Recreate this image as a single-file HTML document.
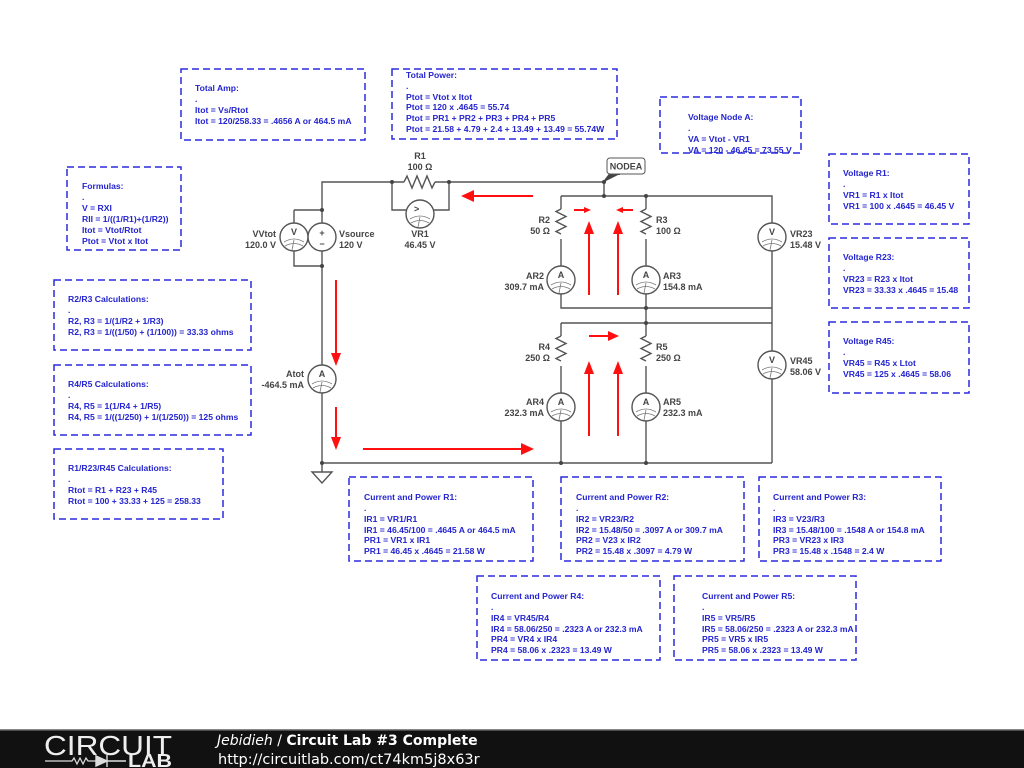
<!DOCTYPE html>
<html><head><meta charset="utf-8"><style>
html,body{margin:0;padding:0;background:#fff;}
svg{display:block;}
.b{fill:none;stroke:#2b2bdd;stroke-width:1.5;stroke-dasharray:7,4;}
.t{font-family:"Liberation Sans",sans-serif;font-size:8.6px;font-weight:bold;fill:#2424d0;}
.l{font-family:"Liberation Sans",sans-serif;font-size:9px;font-weight:bold;fill:#444;}
.w{stroke:#555;stroke-width:1.4;fill:none;}
.r{stroke:#ff1010;stroke-width:2;fill:none;}
.ra{fill:#ff1010;}
</style></head><body>
<svg width="1024" height="768" viewBox="0 0 1024 768" xmlns="http://www.w3.org/2000/svg">
<defs>
<g id="m"><circle r="14" fill="#fff" stroke="#555" stroke-width="1.4"/><path d="M-10,5 Q0,-1 10,5 M-9,9 Q0,4 9,9 M0,3 L-2,13" stroke="#777" stroke-width="0.8" fill="none"/></g>
</defs>
<g>
<rect class="b" x="181" y="69" width="184" height="71"/>
<text class="t" x="195" y="91">Total Amp:</text><text class="t" x="195" y="102">.</text><text class="t" x="195" y="113">Itot = Vs/Rtot</text><text class="t" x="195" y="124">Itot = 120/258.33 = .4656 A or 464.5 mA</text>

<rect class="b" x="392" y="69" width="225" height="70"/>
<text class="t" x="406" y="78">Total Power:</text><text class="t" x="406" y="89">.</text><text class="t" x="406" y="100">Ptot = Vtot x Itot</text><text class="t" x="406" y="110">Ptot = 120 x .4645 = 55.74</text><text class="t" x="406" y="121">Ptot = PR1 + PR2 + PR3 + PR4 + PR5</text><text class="t" x="406" y="132">Ptot = 21.58 + 4.79 + 2.4 + 13.49 + 13.49 = 55.74W</text>

<rect class="b" x="660" y="97" width="141" height="56"/>
<text class="t" x="688" y="120">Voltage Node A:</text><text class="t" x="688" y="131">.</text><text class="t" x="688" y="142">VA = Vtot - VR1</text><text class="t" x="688" y="153">VA = 120 - 46.45 = 73.55 V</text>

<rect class="b" x="67" y="167" width="114" height="83"/>
<text class="t" x="82" y="189">Formulas:</text><text class="t" x="82" y="200">.</text><text class="t" x="82" y="211">V = RXI</text><text class="t" x="82" y="222">RII = 1/((1/R1)+(1/R2))</text><text class="t" x="82" y="233">Itot = Vtot/Rtot</text><text class="t" x="82" y="244">Ptot = Vtot x Itot</text>

<rect class="b" x="829" y="154" width="140" height="70"/>
<text class="t" x="843" y="176">Voltage R1:</text><text class="t" x="843" y="187">.</text><text class="t" x="843" y="198">VR1 = R1 x Itot</text><text class="t" x="843" y="209">VR1 = 100 x .4645 = 46.45 V</text>

<rect class="b" x="829" y="238" width="140" height="70"/>
<text class="t" x="843" y="260">Voltage R23:</text><text class="t" x="843" y="271">.</text><text class="t" x="843" y="282">VR23 = R23 x Itot</text><text class="t" x="843" y="293">VR23 = 33.33 x .4645 = 15.48</text>

<rect class="b" x="829" y="322" width="140" height="71"/>
<text class="t" x="843" y="344">Voltage R45:</text><text class="t" x="843" y="355">.</text><text class="t" x="843" y="366">VR45 = R45 x Ltot</text><text class="t" x="843" y="377">VR45 = 125 x .4645 = 58.06</text>

<rect class="b" x="54" y="280" width="197" height="70"/>
<text class="t" x="68" y="302">R2/R3 Calculations:</text><text class="t" x="68" y="313">.</text><text class="t" x="68" y="324">R2, R3 = 1/(1/R2 + 1/R3)</text><text class="t" x="68" y="335">R2, R3 = 1/((1/50) + (1/100)) = 33.33 ohms</text>

<rect class="b" x="54" y="365" width="197" height="70"/>
<text class="t" x="68" y="387">R4/R5 Calculations:</text><text class="t" x="68" y="398">.</text><text class="t" x="68" y="409">R4, R5 = 1(1/R4 + 1/R5)</text><text class="t" x="68" y="420">R4, R5 = 1/((1/250) + 1/(1/250)) = 125 ohms</text>

<rect class="b" x="54" y="449" width="169" height="70"/>
<text class="t" x="68" y="471">R1/R23/R45 Calculations:</text><text class="t" x="68" y="482">.</text><text class="t" x="68" y="493">Rtot = R1 + R23 + R45</text><text class="t" x="68" y="504">Rtot = 100 + 33.33 + 125 = 258.33</text>

<rect class="b" x="349" y="477" width="184" height="84"/>
<text class="t" x="364" y="500">Current and Power R1:</text><text class="t" x="364" y="511">.</text><text class="t" x="364" y="522">IR1 = VR1/R1</text><text class="t" x="364" y="533">IR1 = 46.45/100 = .4645 A or 464.5 mA</text><text class="t" x="364" y="543">PR1 = VR1 x IR1</text><text class="t" x="364" y="554">PR1 = 46.45 x .4645 = 21.58 W</text>

<rect class="b" x="561" y="477" width="183" height="84"/>
<text class="t" x="576" y="500">Current and Power R2:</text><text class="t" x="576" y="511">.</text><text class="t" x="576" y="522">IR2 = VR23/R2</text><text class="t" x="576" y="533">IR2 = 15.48/50 = .3097 A or 309.7 mA</text><text class="t" x="576" y="543">PR2 = V23 x IR2</text><text class="t" x="576" y="554">PR2 = 15.48 x .3097 = 4.79 W</text>

<rect class="b" x="759" y="477" width="182" height="84"/>
<text class="t" x="773" y="500">Current and Power R3:</text><text class="t" x="773" y="511">.</text><text class="t" x="773" y="522">IR3 = V23/R3</text><text class="t" x="773" y="533">IR3 = 15.48/100 = .1548 A or 154.8 mA</text><text class="t" x="773" y="543">PR3 = VR23 x IR3</text><text class="t" x="773" y="554">PR3 = 15.48 x .1548 = 2.4 W</text>

<rect class="b" x="477" y="576" width="183" height="84"/>
<text class="t" x="491" y="599">Current and Power R4:</text><text class="t" x="491" y="610">.</text><text class="t" x="491" y="621">IR4 = VR45/R4</text><text class="t" x="491" y="632">IR4 = 58.06/250 = .2323 A or 232.3 mA</text><text class="t" x="491" y="642">PR4 = VR4 x IR4</text><text class="t" x="491" y="653">PR4 = 58.06 x .2323 = 13.49 W</text>

<rect class="b" x="674" y="576" width="182" height="84"/>
<text class="t" x="702" y="599">Current and Power R5:</text><text class="t" x="702" y="610">.</text><text class="t" x="702" y="621">IR5 = VR5/R5</text><text class="t" x="702" y="632">IR5 = 58.06/250 = .2323 A or 232.3 mA</text><text class="t" x="702" y="642">PR5 = VR5 x IR5</text><text class="t" x="702" y="653">PR5 = 58.06 x .2323 = 13.49 W</text>
</g>

<g class="w">
<path d="M322,463 V182 H404 M435,182 H604"/>
<path d="M404,182 l3,-6 l5,12 l5,-12 l5,12 l5,-12 l5,12 l3,-6"/>
<path d="M392,182 V210 H406 M434,210 H449 V182"/>
<path d="M294,210 H322 M294,210 V266 H322"/>
<path d="M604,182 V196 M561,196 H772 V463 M561,196 V209 M561,239 V308 H772 M646,196 V209 M646,239 V323"/>
<path d="M561,209 l-5,2.5 l10,5 l-10,5 l10,5 l-10,5 l5,2.5"/>
<path d="M646,209 l-5,2.5 l10,5 l-10,5 l10,5 l-10,5 l5,2.5"/>
<path d="M561,323 H772 M561,323 V336 M561,366 V463 M646,336 V323 M646,366 V463"/>
<path d="M561,336 l-5,2.5 l10,5 l-10,5 l10,5 l-10,5 l5,2.5"/>
<path d="M646,336 l-5,2.5 l10,5 l-10,5 l10,5 l-10,5 l5,2.5"/>
<path d="M322,463 H772"/>
<path d="M322,463 V472 M312,472 H332 L322,483 Z"/>
</g>
<g fill="#444">
<circle cx="392" cy="182" r="2"/><circle cx="449" cy="182" r="2"/><circle cx="322" cy="210" r="2"/><circle cx="322" cy="266" r="2"/><circle cx="604" cy="182" r="2"/><circle cx="604" cy="196" r="2"/><circle cx="646" cy="196" r="2"/><circle cx="646" cy="308" r="2"/><circle cx="646" cy="323" r="2"/><circle cx="322" cy="463" r="2"/><circle cx="561" cy="463" r="2"/><circle cx="646" cy="463" r="2"/>
</g>
<path d="M604,182 L610,174 L620,174" fill="#444" stroke="#444" stroke-width="2"/>
<rect x="607" y="158" width="38" height="16" rx="3" fill="#fff" stroke="#555"/>
<text class="l" x="626" y="169.5" text-anchor="middle" font-size="8.5">NODEA</text>

<g transform="translate(420,214)"><use href="#m"/><text class="l" x="-6" y="-2" font-size="10">&gt;</text></g>
<g transform="translate(294,237)"><use href="#m"/><text class="l" x="0" y="-2" text-anchor="middle" font-size="10">V</text></g>
<g transform="translate(322,237)"><circle r="14" fill="#fff" stroke="#555" stroke-width="1.4"/><text class="l" x="0" y="-1" text-anchor="middle" font-size="12">+</text><text class="l" x="0" y="10" text-anchor="middle" font-size="12">−</text></g>
<g transform="translate(322,379)"><use href="#m"/><text class="l" x="0" y="-2" text-anchor="middle" font-size="10">A</text></g>
<g transform="translate(561,280)"><use href="#m"/><text class="l" x="0" y="-2" text-anchor="middle" font-size="10">A</text></g>
<g transform="translate(646,280)"><use href="#m"/><text class="l" x="0" y="-2" text-anchor="middle" font-size="10">A</text></g>
<g transform="translate(561,407)"><use href="#m"/><text class="l" x="0" y="-2" text-anchor="middle" font-size="10">A</text></g>
<g transform="translate(646,407)"><use href="#m"/><text class="l" x="0" y="-2" text-anchor="middle" font-size="10">A</text></g>
<g transform="translate(772,237)"><use href="#m"/><text class="l" x="0" y="-2" text-anchor="middle" font-size="10">V</text></g>
<g transform="translate(772,365)"><use href="#m"/><text class="l" x="0" y="-2" text-anchor="middle" font-size="10">V</text></g>

<text class="l" x="420" y="159" text-anchor="middle">R1</text><text class="l" x="420" y="170" text-anchor="middle">100 Ω</text>
<text class="l" x="276" y="237" text-anchor="end">VVtot</text><text class="l" x="276" y="248" text-anchor="end">120.0 V</text>
<text class="l" x="339" y="237">Vsource</text><text class="l" x="339" y="248">120 V</text>
<text class="l" x="420" y="237" text-anchor="middle">VR1</text><text class="l" x="420" y="248" text-anchor="middle">46.45 V</text>
<text class="l" x="550" y="223" text-anchor="end">R2</text><text class="l" x="550" y="234" text-anchor="end">50 Ω</text>
<text class="l" x="656" y="223">R3</text><text class="l" x="656" y="234">100 Ω</text>
<text class="l" x="544" y="279" text-anchor="end">AR2</text><text class="l" x="544" y="290" text-anchor="end">309.7 mA</text>
<text class="l" x="663" y="279">AR3</text><text class="l" x="663" y="290">154.8 mA</text>
<text class="l" x="550" y="350" text-anchor="end">R4</text><text class="l" x="550" y="361" text-anchor="end">250 Ω</text>
<text class="l" x="656" y="350">R5</text><text class="l" x="656" y="361">250 Ω</text>
<text class="l" x="544" y="405" text-anchor="end">AR4</text><text class="l" x="544" y="416" text-anchor="end">232.3 mA</text>
<text class="l" x="663" y="405">AR5</text><text class="l" x="663" y="416">232.3 mA</text>
<text class="l" x="790" y="237">VR23</text><text class="l" x="790" y="248">15.48 V</text>
<text class="l" x="790" y="364">VR45</text><text class="l" x="790" y="375">58.06 V</text>
<text class="l" x="304" y="377" text-anchor="end">Atot</text><text class="l" x="304" y="388" text-anchor="end">-464.5 mA</text>

<g>
<path class="r" d="M533,196 H472"/><path class="ra" d="M461,196 l13,-6 v12 Z"/>
<path class="r" d="M574,210 H584"/><path class="ra" d="M591,210 l-7,-3 v6 Z"/>
<path class="r" d="M633,210 H623"/><path class="ra" d="M616,210 l7,-3 v6 Z"/>
<path class="r" d="M589,295 V232"/><path class="ra" d="M589,221 l-5,13 h10 Z"/>
<path class="r" d="M618,295 V232"/><path class="ra" d="M618,221 l-5,13 h10 Z"/>
<path class="r" d="M589,436 V372"/><path class="ra" d="M589,361 l-5,13 h10 Z"/>
<path class="r" d="M618,436 V372"/><path class="ra" d="M618,361 l-5,13 h10 Z"/>
<path class="r" d="M589,336 H608"/><path class="ra" d="M619,336 l-11,-5 v10 Z"/>
<path class="r" d="M336,280 V354"/><path class="ra" d="M336,366 l-5,-13 h10 Z"/>
<path class="r" d="M336,407 V438"/><path class="ra" d="M336,450 l-5,-13 h10 Z"/>
<path class="r" d="M363,449 H522"/><path class="ra" d="M534,449 l-13,-6 v12 Z"/>
</g>

<rect x="0" y="729" width="1024" height="39" fill="#111"/>
<rect x="0" y="729" width="1024" height="1.5" fill="#888"/>
<text x="44" y="755" font-family="Liberation Sans,sans-serif" font-size="28" fill="#eee" textLength="128" lengthAdjust="spacingAndGlyphs">CIRCUIT</text>
<path d="M45,761 H72 l2,-3 l3,6 l3,-6 l3,6 l3,-6 l2,3 H96" stroke="#ddd" stroke-width="1.2" fill="none"/>
<path d="M96,756 v10 l11,-5 Z M107,755 v12 M107,761 H126" fill="#ddd" stroke="#ddd" stroke-width="1.4"/>
<text x="128" y="767" font-family="Liberation Sans,sans-serif" font-size="18" font-weight="bold" fill="#eee" textLength="44" lengthAdjust="spacingAndGlyphs">LAB</text>
<text x="217" y="745" font-family="DejaVu Sans,sans-serif" font-size="14" fill="#fff"><tspan font-style="italic">Jebidieh</tspan> / <tspan font-weight="bold">Circuit Lab #3 Complete</tspan></text>
<text x="218" y="764" font-family="DejaVu Sans,sans-serif" font-size="14.5" fill="#fff">http://circuitlab.com/ct74km5j8x63r</text>
</svg>
</body></html>
